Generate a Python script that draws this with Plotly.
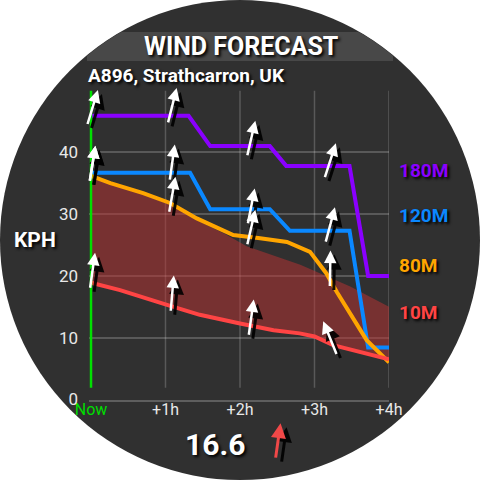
import numpy as np
import plotly.graph_objects as go

hour_ticks = [0, 1, 2, 3, 4]
hour_labels = ["<span style='color:#00dd00'>Now</span>", "+1h", "+2h", "+3h", "+4h"]
kph_ticks = [0, 10, 20, 30, 40]

hours_180 = [0, 1.31, 1.60, 2.40, 2.62, 3.47, 3.72, 4]
kph_180 = [45.9, 45.9, 41.0, 41.0, 37.8, 37.8, 20.0, 20.0]

hours_120 = [0, 1.33, 1.60, 2.40, 2.67, 3.47, 3.72, 4]
kph_120 = [36.7, 36.7, 30.8, 30.8, 27.3, 27.3, 8.4, 8.4]

hours_80 = [0, 0.26, 0.70, 1.06, 1.42, 1.91, 2.27, 2.63, 2.94, 3.16, 3.30, 3.70, 4]
kph_80 = [36.2, 35.0, 33.4, 31.8, 29.3, 26.6, 26.1, 25.5, 23.9, 20.4, 17.4, 9.6, 6.0]

hours_10 = [0, 0.39, 1.02, 1.46, 2.00, 2.45, 2.80, 3.00, 3.25, 3.61, 4]
kph_10 = [18.9, 17.7, 15.3, 13.7, 12.3, 11.2, 10.7, 10.2, 8.8, 7.7, 6.5]

# upper edge of the shaded band above the 10M line
hours_band = [0, 0.70, 1.06, 1.42, 1.80, 2.09, 2.81, 3.48, 4]
kph_band = [36.0, 33.2, 31.5, 29.0, 26.8, 24.8, 21.8, 18.3, 15.0]

levels = ["180M", "120M", "80M", "10M"]
level_colors = ["#8a00ff", "#0a88ff", "#ffa500", "#ff4444"]

# wind direction arrows (hour, speed where drawn, direction in degrees)
arrow_hours = [0.02, 1.09, 2.15, 3.21]
arrow_kph = {
    "180M": [47.2, 47.5, 42.2, 38.6],
    "120M": [38.1, 38.3, 31.2, 28.2],
    "80M": [38.1, 33.1, 27.8, 21.1],
    "10M": [20.8, 17.1, 13.2, 9.9],
}
arrow_dir = {
    "180M": [17, 14, 13, 18],
    "120M": [9, 8, 11, 15],
    "80M": [9, 10, 13, 1],
    "10M": [8, 5, 8, -22],
}

current_kph = "16.6"
current_dir = 7

W = 480
X_PAD = 0.025  # a little room left of "Now" so the green line is not clipped


def px(x):
    return x / W


def py(y):
    return 1 - y / W


def banner_path(x0, y0, x1, y1):
    # rectangle clipped to the round face
    cx, cy, r = 240, 240, 239.5
    pts = []
    for t in np.linspace(0, 1, 200):
        for p in [(x0 + (x1 - x0) * t, y0), (x1, y0 + (y1 - y0) * t),
                  (x1 - (x1 - x0) * t, y1), (x0, y1 - (y1 - y0) * t)]:
            if (p[0] - cx) ** 2 + (p[1] - cy) ** 2 <= r * r:
                pts.append(p)
    for a in np.linspace(0, 2 * np.pi, 1440):
        p = (cx + r * np.cos(a), cy + r * np.sin(a))
        if x0 <= p[0] <= x1 and y0 <= p[1] <= y1:
            pts.append(p)
    pts = np.array(pts)
    m = pts.mean(axis=0)
    order = np.argsort(np.arctan2(pts[:, 1] - m[1], pts[:, 0] - m[0]))
    pts = pts[order]
    return "M" + " L".join(f"{px(x):.5f},{py(y):.5f}" for x, y in pts) + " Z"


fig = go.Figure()

# shaded band
fig.add_trace(go.Scatter(
    x=hours_band + hours_10[::-1], y=kph_band + kph_10[::-1],
    fill="toself", fillcolor="rgba(190,50,50,0.5)",
    line=dict(width=0), mode="lines", hoverinfo="skip", showlegend=False))

series = {
    "180M": (hours_180, kph_180),
    "120M": (hours_120, kph_120),
    "80M": (hours_80, kph_80),
    "10M": (hours_10, kph_10),
}
for name, col in zip(levels, level_colors):
    xs, ys = series[name]
    fig.add_trace(go.Scatter(x=xs, y=ys, mode="lines", name=name,
                             line=dict(color=col, width=4), showlegend=False))

shapes = [
    dict(type="circle", xref="paper", yref="paper", x0=0, y0=0, x1=1, y1=1,
         fillcolor="#303030", line=dict(width=0), layer="below"),
    dict(type="path", xref="paper", yref="paper", path=banner_path(87, 32, 393, 61),
         fillcolor="#484848", line=dict(width=0), layer="below"),
]
for h in hour_ticks[1:]:
    shapes.append(dict(type="line", xref="x", yref="y", x0=h, x1=h, y0=1.9, y1=50,
                       line=dict(color="rgba(255,255,255,0.2)", width=1.5), layer="below"))
shapes.append(dict(type="line", xref="x", yref="y", x0=0, x1=0, y0=1.9, y1=50,
                   line=dict(color="#00e000", width=2.5), layer="above"))

annotations = []
L = 37


def arrow(x, y, deg, color, length, xref="x", yref="y", width=2.5, dx=0, dy=0):
    t = np.radians(deg)
    return dict(x=x, y=y, xref=xref, yref=yref, text="", showarrow=True,
                arrowhead=2, arrowsize=1, arrowwidth=width, arrowcolor=color,
                ax=-length * np.sin(t), ay=length * np.cos(t), standoff=0,
                xshift=length / 2 * np.sin(t) + dx, yshift=length / 2 * np.cos(t) + dy)


for shadow in (True, False):
    for name in levels[::-1]:
        for h, v, d in zip(arrow_hours, arrow_kph[name], arrow_dir[name]):
            if shadow:
                annotations.append(arrow(h, v, d, "rgba(0,0,0,0.9)", L, width=3, dx=4, dy=-4))
            else:
                annotations.append(arrow(h, v, d, "white", L))

annotations.append(arrow(px(278), py(444), current_dir, "rgba(0,0,0,0.9)", 42,
                         "paper", "paper", width=3, dx=6, dy=-4))
annotations.append(arrow(px(278), py(444), current_dir, "#f04848", 42,
                         "paper", "paper", width=3))

shadow_font = "2px 2px 3px black"


def label(text, x, y, size, color="white", xanchor="center"):
    return dict(text="<b>" + text + "</b>", x=px(x), y=py(y), xref="paper", yref="paper",
                xanchor=xanchor, yanchor="middle", showarrow=False,
                font=dict(family="Roboto", size=size, color=color, shadow=shadow_font))


annotations += [
    label("WIND FORECAST", 241, 46, 25),
    label("A896, Strathcarron, UK", 86, 75, 19, xanchor="left"),
    label("KPH", 35, 240, 21),
    label(current_kph, 215, 444, 30),
]
label_y = [170, 216, 265, 312]
for name, col, ly in zip(levels, level_colors, label_y):
    annotations.append(label(name, 397, ly, 19, col, xanchor="left"))

x_left = 91 - X_PAD * (389 - 91) / 4

fig.update_layout(
    width=480, height=480, template="none",
    margin=dict(l=0, r=0, t=0, b=0),
    paper_bgcolor="white", plot_bgcolor="rgba(0,0,0,0)",
    showlegend=False,
    shapes=shapes, annotations=annotations,
    xaxis=dict(domain=[px(x_left), px(389)], range=[-X_PAD, 4], tickvals=hour_ticks,
               ticktext=hour_labels, showgrid=False, zeroline=False,
               showline=True, linecolor="#5e5e5e", linewidth=2, ticks="",
               tickfont=dict(family="Roboto", size=16, color="#e8e8e8"),
               ticklabelstandoff=-6, automargin=False),
    yaxis=dict(domain=[py(399.5), py(90.5)], range=[0, 50], tickvals=kph_ticks,
               showgrid=True, gridcolor="rgba(255,255,255,0.2)", gridwidth=1.5,
               zeroline=False, showline=False, ticks="",
               tickfont=dict(family="Roboto", size=17, color="#e8e8e8"),
               ticklabelstandoff=10, automargin=False),
)

fig.write_html("out.html", config={"displayModeBar": False},
               post_script="document.body.style.margin='0';")
